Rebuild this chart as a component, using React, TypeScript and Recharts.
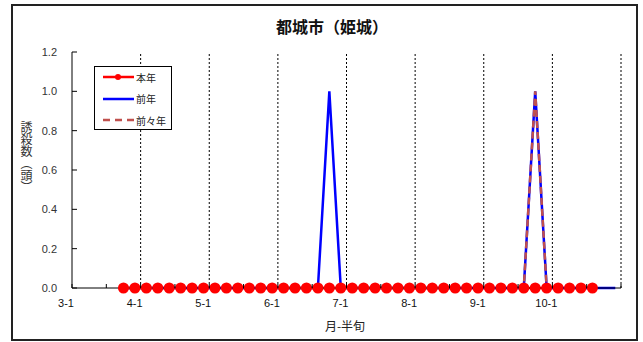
import { LineChart, Line, XAxis, YAxis, ReferenceLine, Legend } from 'recharts'

// 月-半旬 (3月1半旬 .. 10月6半旬)
const months = [3, 4, 5, 6, 7, 8, 9, 10]
const halves = [1, 2, 3, 4, 5, 6]
const slots = months.flatMap(m => halves.map(h => `${m}-${h}`))

const monthLabels = ['3-1', '4-1', '5-1', '6-1', '7-1', '8-1', '9-1', '10-1']
const yTicks = [0, 0.2, 0.4, 0.6, 0.8, 1.0, 1.2]

// 本年
const thisYear = [
  null, null, null, null, 0, 0,
  0, 0, 0, 0, 0, 0,
  0, 0, 0, 0, 0, 0,
  0, 0, 0, 0, 0, 0,
  0, 0, 0, 0, 0, 0,
  0, 0, 0, 0, 0, 0,
  0, 0, 0, 0, 0, 0,
  0, 0, 0, 0, null, null,
]
// 前年
const lastYear = [
  null, null, null, null, 0, 0,
  0, 0, 0, 0, 0, 0,
  0, 0, 0, 0, 0, 0,
  0, 0, 0, 0, 1, 0,
  0, 0, 0, 0, 0, 0,
  0, 0, 0, 0, 0, 0,
  0, 0, 0, 0, 1, 0,
  0, 0, 0, 0, 0, 0,
]
// 前々年
const twoYearsAgo = [
  null, null, null, null, 0, 0,
  0, 0, 0, 0, 0, 0,
  0, 0, 0, 0, 0, 0,
  0, 0, 0, 0, 0, 0,
  0, 0, 0, 0, 0, 0,
  0, 0, 0, 0, 0, 0,
  0, 0, 0, 0, 1, 0,
  0, 0, 0, 0, null, null,
]

const data = slots.map((s, i) => ({
  x: i + 0.5,
  slot: s,
  thisYear: thisYear[i],
  lastYear: lastYear[i],
  twoYearsAgo: twoYearsAgo[i],
}))

const monthIdx = monthLabels.map(l => slots.indexOf(l))
const xTicks = [...slots.map((s, i) => (s.endsWith('-1') || s.endsWith('-4') ? i : -1)).filter(i => i >= 0), slots.length]
const gridX = [...monthIdx.slice(1), slots.length]

const numFont = '"Liberation Sans", Arial, sans-serif'
const jpFont = '"Noto Sans CJK JP", "Noto Sans", sans-serif'

function XTick({ x, y, payload }: any) {
  const i = payload.value
  const label = i % 6 === 0 && i < slots.length ? slots[i] : null
  return (
    <g>
      <line x1={x} x2={x} y1={y} y2={y - 4} stroke="#000" />
      {label && (
        <text x={x - 6} y={y + 19} textAnchor="middle" fontSize={11} fill="#111" fontFamily={numFont}>
          {label}
        </text>
      )}
    </g>
  )
}

function YTick({ x, y, payload }: any) {
  return (
    <g>
      <line x1={x} x2={x + 5} y1={y} y2={y} stroke="#000" />
      <text x={x - 15} y={y + 4} textAnchor="end" fontSize={11} fill="#333" fontFamily={numFont}>
        {payload.value.toFixed(1)}
      </text>
    </g>
  )
}

const legendItems = [
  { name: '本年', color: '#ff0000', dash: undefined, dot: true },
  { name: '前年', color: '#0000ff', dash: undefined, dot: false },
  { name: '前々年', color: '#c0504d', dash: '7 5', dot: false },
]

function LegendBox() {
  return (
    <div style={{ width: 78, height: 64, border: '1px solid #000', background: '#fff', boxSizing: 'border-box', position: 'relative' }}>
      {legendItems.map((it, i) => (
        <div key={it.name} style={{ position: 'absolute', left: 7, top: 3 + i * 21.5, height: 14, display: 'flex', alignItems: 'center' }}>
          <svg width={33} height={10}>
            <line x1={1} x2={32} y1={5} y2={5} stroke={it.color} strokeWidth={2.5} strokeDasharray={it.dash} />
            {it.dot && <circle cx={16} cy={5} r={3} fill={it.color} />}
          </svg>
          <span style={{ fontSize: 10, fontFamily: jpFont, color: '#222', marginLeft: 1 }}>{it.name}</span>
        </div>
      ))}
    </div>
  )
}

export default function App() {
  return (
    <div style={{ position: 'relative', width: 643, height: 342, background: '#fff' }}>
      <style>{'body{margin:0}'}</style>
      <div style={{ position: 'absolute', left: 11, top: 4, width: 627, height: 337, border: '2px solid #222', boxSizing: 'border-box' }} />
      <div style={{ position: 'absolute', left: 0, width: 664, top: 14, textAlign: 'center', fontSize: 16, fontWeight: 'bold', fontFamily: jpFont, color: '#111' }}>
        都城市（姫城）
      </div>
      <div style={{ position: 'absolute', left: 20, top: 121, writingMode: 'vertical-rl', fontSize: 12, fontFamily: jpFont, color: '#333', lineHeight: 1 }}>
        誘殺数（頭）
      </div>
      <div style={{ position: 'absolute', left: 0, width: 690, top: 317, textAlign: 'center', fontSize: 12, fontFamily: jpFont, color: '#222' }}>
        月-半旬
      </div>
      <LineChart width={643} height={342} data={data} margin={{ top: 52, right: 22, bottom: 24, left: 0 }} style={{ position: 'absolute', left: 0, top: 0 }}>
        <XAxis
          type="number"
          dataKey="x"
          domain={[0, slots.length]}
          ticks={xTicks}
          interval={0}
          tick={<XTick />}
          tickLine={false}
          tickSize={0}
          tickMargin={0}
          height={30}
          axisLine={{ stroke: '#000', strokeWidth: 1 }}
        />
        <YAxis
          domain={[0, 1.2]}
          ticks={yTicks}
          interval={0}
          tick={<YTick />}
          tickLine={false}
          tickSize={0}
          tickMargin={0}
          width={72}
          axisLine={{ stroke: '#000', strokeWidth: 1 }}
        />
        {gridX.map(g => (
          <ReferenceLine key={g} x={g} stroke="#000" strokeDasharray="2 2" strokeWidth={1} ifOverflow="visible" />
        ))}
        <Line type="linear" dataKey="thisYear" stroke="#ff0000" strokeWidth={2.5} dot={false} activeDot={false} isAnimationActive={false} />
        <Line type="linear" dataKey="lastYear" stroke="#0000ff" strokeWidth={2.5} dot={false} activeDot={false} isAnimationActive={false} />
        <Line type="linear" dataKey="twoYearsAgo" stroke="#c0504d" strokeWidth={2.5} strokeDasharray="7 4" dot={false} activeDot={false} isAnimationActive={false} />
        <Line type="linear" dataKey="thisYear" stroke="none" legendType="none" dot={{ r: 5.5, fill: '#ff0000', stroke: 'none' }} activeDot={false} isAnimationActive={false} />
        <Legend
          layout="vertical"
          align="center"
          verticalAlign="middle"
          wrapperStyle={{ left: 94, top: 66, width: 78 }}
          content={() => <LegendBox />}
        />
      </LineChart>
    </div>
  )
}
